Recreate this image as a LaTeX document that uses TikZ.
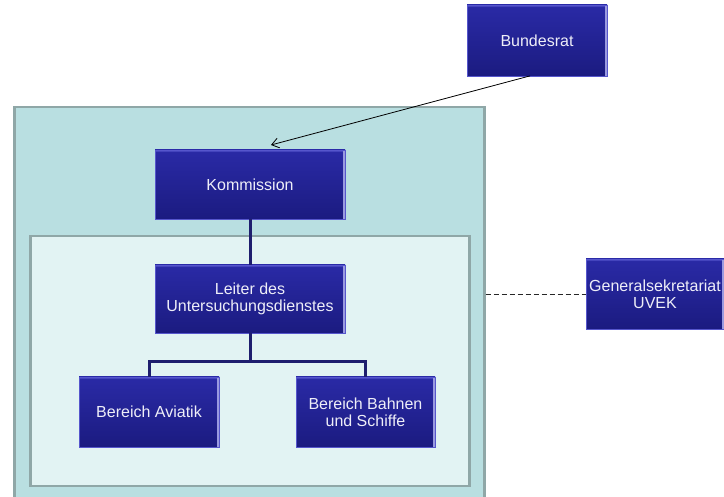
\documentclass[tikz,border=0pt]{standalone}
\usepackage{fontspec}
\setmainfont{Liberation Sans}
\usetikzlibrary{arrows.meta,calc}
\definecolor{outerfill}{HTML}{B9DFE1}
\definecolor{innerfill}{HTML}{E2F3F3}
\definecolor{framegray}{HTML}{8FA7A7}
\definecolor{boxtop}{HTML}{2A2AA6}
\definecolor{boxbot}{HTML}{1B1B80}
\definecolor{boxedge}{HTML}{5656CC}
\definecolor{treeline}{HTML}{1E1E6E}
\definecolor{txt}{HTML}{EEEEF8}
\tikzset{
  orgbox/.style={rectangle, top color=boxtop, bottom color=boxbot, draw=boxedge, line width=0.8pt,
    text=txt, align=center, font=\fontsize{16}{17}\selectfont, inner sep=2pt,
    path picture={
      \fill[boxedge!60!boxtop] (path picture bounding box.north west) rectangle ([yshift=-2.5pt]path picture bounding box.north east);
      \fill[boxedge!60!white] ([xshift=-2.5pt]path picture bounding box.north east) rectangle (path picture bounding box.south east);
    }},
  tree/.style={draw=treeline, line width=3pt},
  panel/.style={rectangle, inner sep=0pt, line width=2.5pt, draw=framegray}
}
\begin{document}
\begin{tikzpicture}[x=1pt,y=-1pt]
\useasboundingbox (0,0) rectangle (724,497);
\begin{scope}
\clip (0,0) rectangle (724,497);
\node[panel, fill=outerfill, minimum width=470pt, minimum height=400pt, anchor=north west] (outer) at (13,106) {};
\end{scope}
\node[panel, fill=innerfill, minimum width=439pt, minimum height=250pt, anchor=north west] (inner) at (29,235) {};

\node[orgbox, minimum width=140pt, minimum height=71pt] (bund) at (537,40.5) {Bundesrat};
\node[orgbox, minimum width=190pt, minimum height=69pt] (komm) at (250,184.5) {Kommission};
\node[orgbox, minimum width=190pt, minimum height=68pt] (leit) at (250,299) {Leiter des\\Untersuchungsdienstes};
\node[orgbox, minimum width=140pt, minimum height=70pt] (avia) at (149,412) {Bereich Aviatik};
\node[orgbox, minimum width=139pt, minimum height=70pt] (bahn) at (365.5,412) {Bereich Bahnen\\und Schiffe};
\node[orgbox, minimum width=138pt, minimum height=70pt] (gen) at (655,294) {Generalsekretariat\\UVEK};

\coordinate (junc) at (250,362);
\draw[tree] (komm.south) -- (leit.north);
\draw[tree] (leit.south) -- (junc) -| (avia.north);
\draw[tree] (junc) -| (bahn.north);

\coordinate (arrEnd) at (271,145);
\draw[-{Straight Barb[length=7pt,width=10pt]}, line width=0.8pt, black] ($(bund.south)+(-7,-0.5)$) -- (arrEnd);
\draw[dash pattern=on 5pt off 3pt, line width=0.9pt, black!85] (outer.east |- gen.west) -- (gen.west);
\end{tikzpicture}
\end{document}
